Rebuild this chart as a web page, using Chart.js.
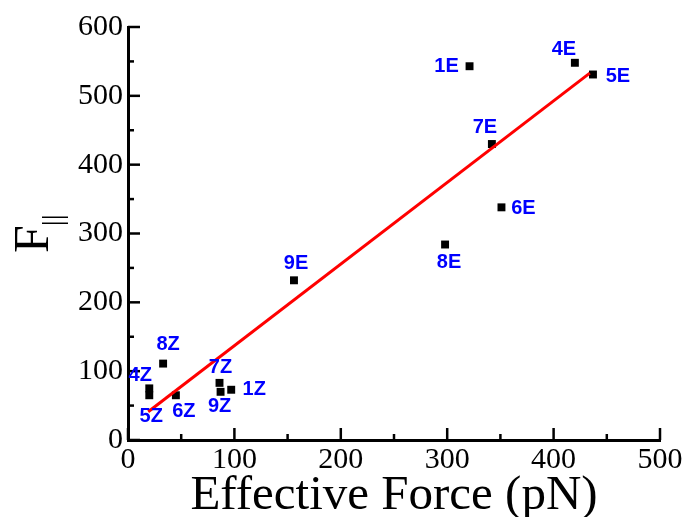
<!DOCTYPE html>
<html>
<head>
<meta charset="utf-8">
<script src="https://cdn.jsdelivr.net/npm/chart.js@4"></script>
<style>
  html, body { margin: 0; padding: 0; background: #fff; }
  #wrap { width: 689px; height: 517px; }
</style>
</head>
<body>
<div id="wrap"><canvas id="forceChart" width="689" height="517"></canvas></div>
<script>
// values
const names  = ['1E', '4E', '5E', '7E', '6E', '8E', '9E', '8Z', '4Z', '5Z', '6Z', '7Z', '9Z', '1Z'];
const effForce = [321, 420, 437, 342, 351, 298, 156, 33, 20, 20, 45, 86, 87, 97];
const fPar     = [543, 548, 531, 430, 338, 284, 232, 111, 75, 65, 65, 83, 70, 73];

// red fitted line, end points
const fitX = [19, 434];
const fitY = [41, 533];

const xTickLabels = ['0', '100', '200', '300', '400', '500'];
const yTickLabels = ['0', '100', '200', '300', '400', '500', '600'];

// where each blue label sits relative to its point (px)
const labelOffsets = {
  '1E': [-23, 0], '4E': [-11, -13], '5E': [25, 2], '7E': [-7, -17],
  '6E': [22, 1], '8E': [4, 18], '9E': [2, -17], '8Z': [5, -19],
  '4Z': [-9, -13], '5Z': [2, 21], '6Z': [8, 16], '7Z': [1, -15],
  '9Z': [-1, 15], '1Z': [23, 0]
};

const SERIF = '"Liberation Serif", "Times New Roman", serif';

// ticks point inwards, minor ones halfway
const inwardTicks = {
  id: 'inwardTicks',
  afterDraw(chart) {
    const { ctx, chartArea: a, scales: { x, y } } = chart;
    ctx.save();
    ctx.strokeStyle = '#000';
    ctx.lineWidth = 2.5;
    const xs = x.ticks.map(t => t.value);
    const ys = y.ticks.map(t => t.value);
    xs.forEach((v, i) => {
      const px = x.getPixelForValue(v);
      ctx.beginPath(); ctx.moveTo(px, a.bottom); ctx.lineTo(px, a.bottom - 12); ctx.stroke();
      if (i < xs.length - 1) {
        const mx = x.getPixelForValue((v + xs[i + 1]) / 2);
        ctx.beginPath(); ctx.moveTo(mx, a.bottom); ctx.lineTo(mx, a.bottom - 6); ctx.stroke();
      }
    });
    ys.forEach((v, i) => {
      const py = y.getPixelForValue(v);
      ctx.beginPath(); ctx.moveTo(a.left, py); ctx.lineTo(a.left + 12, py); ctx.stroke();
      if (i < ys.length - 1) {
        const my = y.getPixelForValue((v + ys[i + 1]) / 2);
        ctx.beginPath(); ctx.moveTo(a.left, my); ctx.lineTo(a.left + 6, my); ctx.stroke();
      }
    });
    ctx.restore();
  }
};

// blue point names + axis titles
const pointNames = {
  id: 'pointNames',
  afterDraw(chart) {
    const { ctx, chartArea: a } = chart;
    const meta = chart.getDatasetMeta(1);
    ctx.save();
    ctx.fillStyle = '#0000ff';
    ctx.font = 'bold 20px "Liberation Sans", Arial, sans-serif';
    ctx.textAlign = 'center';
    ctx.textBaseline = 'middle';
    meta.data.forEach((pt, i) => {
      const off = labelOffsets[names[i]] || [0, 0];
      ctx.fillText(names[i], pt.x + off[0], pt.y + off[1]);
    });

    // x title
    ctx.fillStyle = '#000';
    ctx.font = '49px ' + SERIF;
    ctx.textBaseline = 'alphabetic';
    ctx.fillText('Effective Force (pN)', (a.left + a.right) / 2, 509);

    // y title: F with || subscript
    ctx.translate(48, 253);
    ctx.rotate(-Math.PI / 2);
    ctx.textAlign = 'left';
    ctx.font = '50px ' + SERIF;
    ctx.fillText('F', 0, 0);
    const fw = ctx.measureText('F').width;
    ctx.font = '30px ' + SERIF;
    ctx.fillText('||', fw - 1, 14);
    ctx.restore();
  }
};

new Chart(document.getElementById('forceChart'), {
  type: 'scatter',
  data: {
    datasets: [
      {
        type: 'line',
        data: fitX.map((v, i) => ({ x: v, y: fitY[i] })),
        borderColor: '#ff0000',
        borderWidth: 3,
        pointRadius: 0,
        fill: false
      },
      {
        data: effForce.map((v, i) => ({ x: v, y: fPar[i] })),
        backgroundColor: '#000',
        borderWidth: 0,
        pointStyle: 'rect',
        pointRadius: 5.6
      }
    ]
  },
  options: {
    responsive: false,
    animation: false,
    events: [],
    layout: { padding: { left: 0, top: 27, right: 29, bottom: 0 } },
    plugins: { legend: { display: false }, tooltip: { enabled: false } },
    scales: {
      x: {
        type: 'linear', min: 0, max: 500,
        grid: { display: false, drawTicks: false },
        border: { display: true, color: '#000', width: 3 },
        ticks: {
          stepSize: 100, padding: 2, color: '#000', maxRotation: 0,
          font: { family: SERIF, size: 30 },
          callback: (v, i) => xTickLabels[i]
        },
        afterFit(s) { s.height = 77; s.paddingLeft = 0; s.paddingRight = 0; }
      },
      y: {
        type: 'linear', min: 0, max: 600,
        grid: { display: false, drawTicks: false },
        border: { display: true, color: '#000', width: 3 },
        ticks: {
          stepSize: 100, padding: 5, color: '#000',
          font: { family: SERIF, size: 30 },
          callback: (v, i) => yTickLabels[i]
        },
        afterFit(s) { s.width = 128; s.paddingTop = 0; s.paddingBottom = 0; }
      }
    }
  },
  plugins: [inwardTicks, pointNames]
});
</script>
</body>
</html>
